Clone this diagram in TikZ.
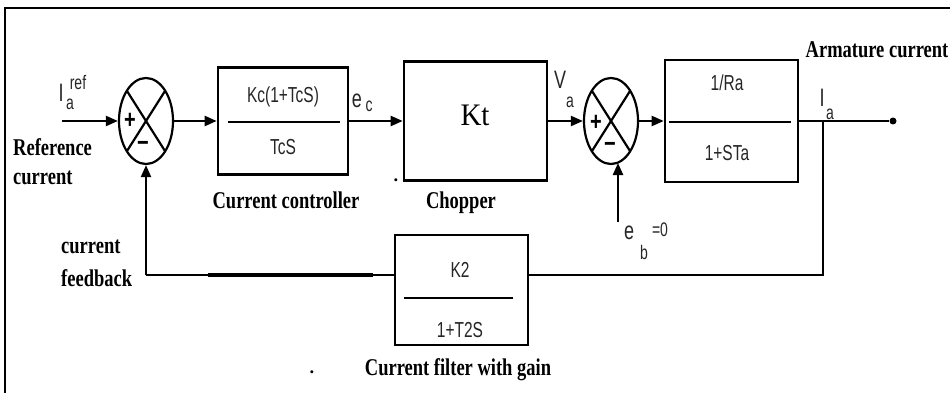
\documentclass[tikz,border=0pt]{standalone}
\usepackage{graphicx}
\usepackage{fontspec}
\setmainfont{Liberation Serif}
\newfontfamily\lsans{Liberation Sans}
\usetikzlibrary{arrows.meta,shapes.geometric}
\newcommand{\tallt}[2][1.4]{\scalebox{1}[#1]{#2}}
\begin{document}
\begin{tikzpicture}[x=1pt,y=-1pt,
  wire/.style={line width=2.2pt},
  arr/.style={wire,-{Triangle[length=12pt,width=10pt]}},
  blk/.style={draw,line width=2.6pt,inner sep=0pt},
  frac/.style={line width=2.8pt},
  sumj/.style={ellipse,draw,line width=2.2pt,minimum width=54pt,minimum height=86pt,inner sep=0pt},
  lbl/.style={font=\fontsize{18.5}{20}\selectfont\bfseries,inner sep=0pt},
  tf/.style={font=\lsans\fontsize{15.5}{16}\selectfont,text=black!85,inner sep=0pt},
  big/.style={font=\lsans\fontsize{18}{19}\selectfont,text=black!85,inner sep=0pt},
  sml/.style={font=\lsans\fontsize{14}{15}\selectfont,text=black!85,inner sep=0pt},
  sgn/.style={font=\lsans\fontsize{20}{21}\selectfont\bfseries,inner sep=0pt}
]
\useasboundingbox (0,0) rectangle (950,393);
% frame
\draw[line width=2pt] (5,393) -- (5,8) -- (950,8);

% blocks
\node[sumj] (s1) at (146,121) {};
\node[blk,minimum width=130pt,minimum height=107pt] (cc) at (283,121) {};
\node[blk,minimum width=143pt,minimum height=119pt] (kt) at (475.5,121) {};
\node[sumj] (s2) at (611,121) {};
\node[blk,minimum width=133pt,minimum height=122pt] (b3) at (731.5,121) {};
\node[blk,minimum width=133pt,minimum height=110pt] (k2) at (461.5,290) {};

% crosses in summing junctions
\draw[wire] ([shift={(-19,-30)}]s1.center) -- ([shift={(19,30)}]s1.center);
\draw[wire] ([shift={(-19,30)}]s1.center) -- ([shift={(19,-30)}]s1.center);
\draw[wire] ([shift={(-19,-30)}]s2.center) -- ([shift={(19,30)}]s2.center);
\draw[wire] ([shift={(-19,30)}]s2.center) -- ([shift={(19,-30)}]s2.center);
\node[sgn] (p1) at ([shift={(-16,0)}]s1.center) {\tallt[1.3]{+}};
\node[sgn] (m1) at ([shift={(-3,25)}]s1.center) {\tallt[1.3]{−}};
\node[sgn] (p2) at ([shift={(-15,2)}]s2.center) {\tallt[1.3]{+}};
\node[sgn] (m2) at ([shift={(-1,26)}]s2.center) {\tallt[1.3]{−}};

% fraction lines and block texts
\draw[frac] (228,122) -- (340,122);
\node[tf] (cct) at (283,97) {\tallt{Kc(1+TcS)}};
\node[tf] (ccb) at (283,147) {\tallt{TcS}};
\node[font=\fontsize{29}{30}\selectfont,inner sep=0pt] (ktt) at (475,115) {\tallt[1.08]{Kt}};
\draw[frac] (669,122) -- (791,122);
\node[tf] (b3t) at (727,83) {\tallt{1/Ra}};
\node[tf] (b3b) at (727,153) {\tallt{1+STa}};
\draw[frac] (404,298) -- (513,298);
\node[tf] (k2t) at (460,270) {\tallt{K2}};
\node[tf] (k2b) at (460,330) {\tallt{1+T2S}};

% forward path
\coordinate (in) at (62,121);
\node[circle,fill,inner sep=0pt,minimum size=7pt] (out) at (893,121) {};
\draw[arr] (in) -- (s1.west);
\draw[arr] (s1.east) -- (cc.west);
\draw[arr] (cc.east) -- (kt.west);
\draw[arr] (kt.east) -- (s2.west);
\draw[arr] (s2.east) -- (b3.west);
\draw[wire] (b3.east) -- (out);

% feedback path
\coordinate (tap) at (823,121);
\coordinate (fbR) at (823,275);
\coordinate (fbL) at (146,275);
\draw[wire] (tap) -- (fbR) -- (fbR -| k2.east);
\draw[wire] (fbL -| k2.west) -- (fbL);
\draw[arr] (fbL) -- (s1.south);
\coordinate (thA) at (208,275);
\coordinate (thB) at (373,275);
\draw[line width=4pt] (thA) -- (thB);

% back emf input
\coordinate (eb) at (618,222);
\coordinate (ebt) at (618,163);
\draw[arr] (eb) -- (ebt);

% signal labels
\node[big] (Ia1) at (61,93) {\tallt{I}};
\node[sml] (Ia1s) at (70,104) {\tallt{a}};
\node[sml] (Ia1r) at (78,83) {\tallt{ref}};
\node[big] (ec) at (357,101) {\tallt{e}};
\node[sml] (ecs) at (369,106) {\tallt{c}};
\node[big] (va) at (560,80) {\tallt{V}};
\node[sml] (vas) at (570,102) {\tallt{a}};
\node[big] (ia) at (822,98) {\tallt{I}};
\node[sml] (ias) at (830,114) {\tallt{a}};
\node[big] (ebe) at (629,233) {\tallt{e}};
\node[sml] (ebb) at (644,252) {\tallt{b}};
\node[sml] (ebz) at (660,230) {\tallt{=0}};

% descriptive labels
\node[lbl,anchor=west] (ref1) at (13,147) {\tallt[1.3]{Reference}};
\node[lbl,anchor=west] (ref2) at (13,178) {\tallt[1.3]{current}};
\node[lbl] (ccl) at (286,200) {\tallt[1.3]{Current controller}};
\node[lbl] (chl) at (461,203) {\tallt[1.3]{Chopper}};
\node[lbl] (arl) at (877,50) {\tallt[1.3]{Armature current}};
\node[lbl,anchor=west] (fb1) at (61,247) {\tallt[1.3]{current}};
\node[lbl,anchor=west] (fb2) at (61,278) {\tallt[1.3]{feedback}};
\node[lbl] (cfl) at (458,370) {\tallt[1.3]{Current filter with gain}};
\node[lbl] (d1) at (396,180) {.};
\node[lbl] (d2) at (312,372) {.};
\end{tikzpicture}
\end{document}
